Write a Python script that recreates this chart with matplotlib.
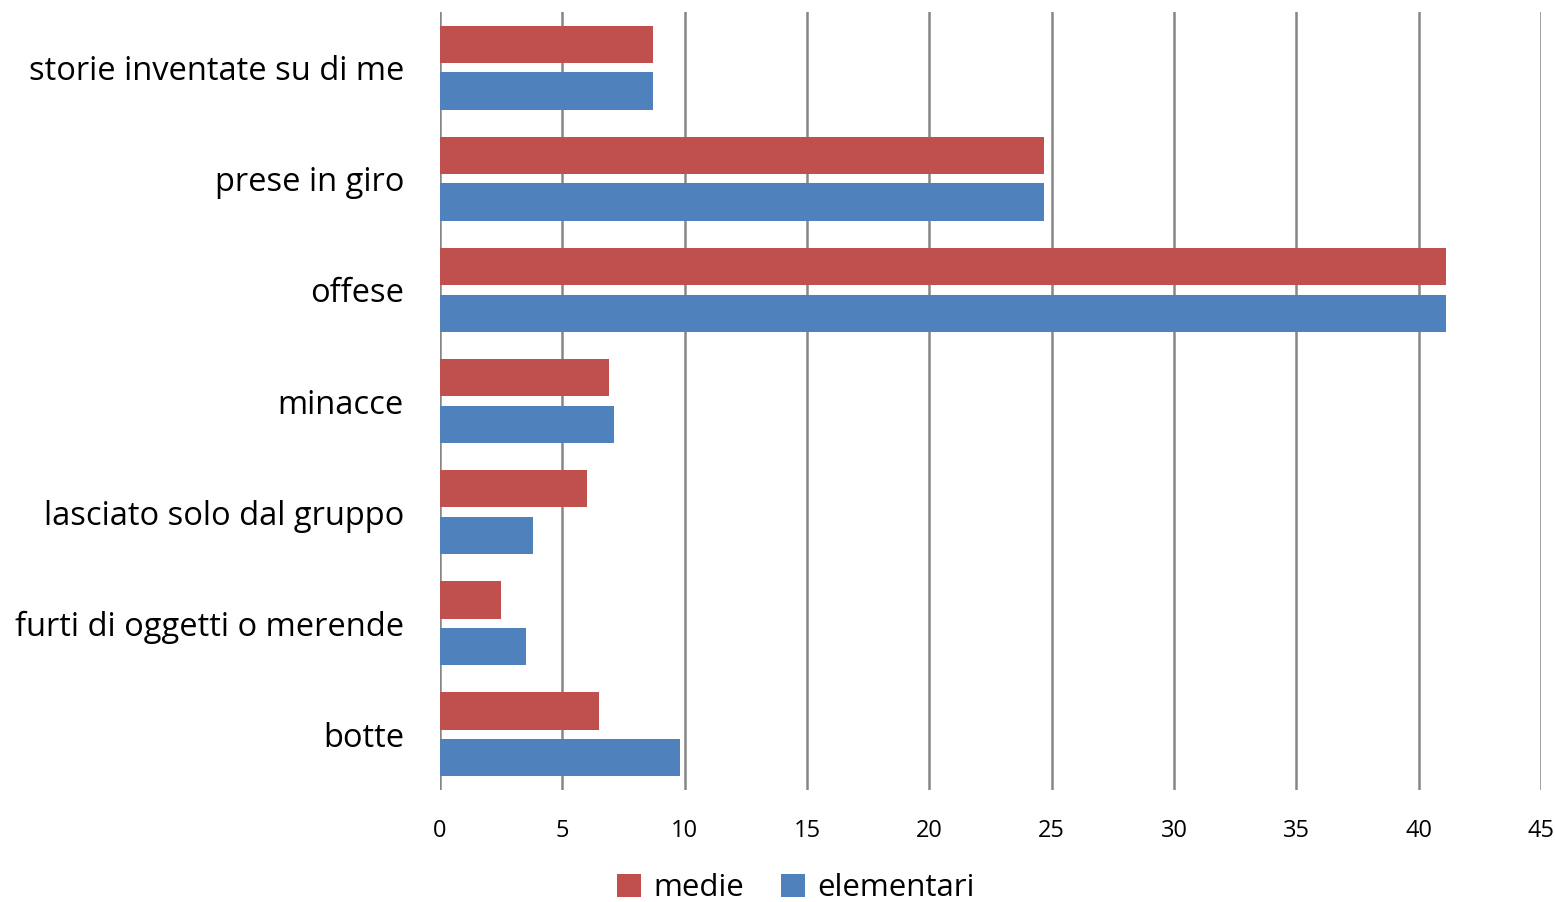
import numpy as np
import matplotlib.pyplot as plt

categories = ["storie inventate su di me", "prese in giro", "offese", "minacce",
              "lasciato solo dal gruppo", "furti di oggetti o merende", "botte"]
medie = [8.7, 24.7, 41.1, 6.9, 6.0, 2.5, 6.5]
elementari = [8.7, 24.7, 41.1, 7.1, 3.8, 3.5, 9.8]
ticks = list(range(0, 50, 5))

plt.rcParams['font.family'] = ['Open Sans', 'DejaVu Sans']

fig = plt.figure(figsize=(15.55, 9.02), dpi=100)
ax = fig.add_axes([440 / 1555, 1 - 790 / 902, 1101 / 1555, 778 / 902])

y = np.arange(len(categories))
h = 0.335
ax.barh(y - 0.21, medie, height=h, color="#C0504D", label="medie", zorder=3)
ax.barh(y + 0.21, elementari, height=h, color="#4F81BD", label="elementari", zorder=3)

ax.set_ylim(len(categories) - 0.5, -0.5)
ax.set_xlim(0, 45)
ax.set_xticks(ticks)
ax.set_xticklabels([str(t) for t in ticks], fontsize=17)
ax.set_yticks(y)
ax.set_yticklabels(categories, fontsize=23.5, va="center_baseline")
ax.tick_params(axis="y", length=0, pad=26)
ax.tick_params(axis="x", length=0, pad=21)
ax.grid(axis="x", color="#868686", linewidth=1.8, zorder=0)
for s in ax.spines.values():
    s.set_visible(False)

ax.legend(loc="center", bbox_to_anchor=(796 / 1555, 1 - 888 / 902), bbox_transform=fig.transFigure,
          ncol=2, frameon=False, fontsize=22.5, handlelength=0.75, handleheight=0.75,
          handletextpad=0.4, columnspacing=1.2)

fig.savefig("out.png")
